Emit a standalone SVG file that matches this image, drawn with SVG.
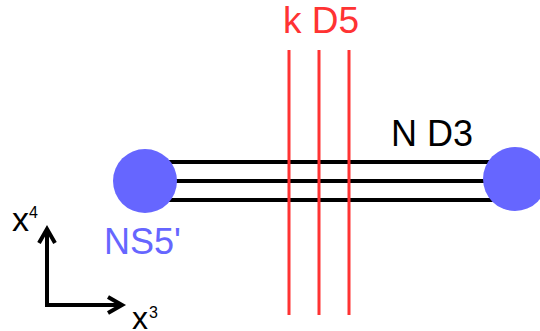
<svg xmlns="http://www.w3.org/2000/svg" width="540" height="331" viewBox="0 0 540 331">
<style>
text{font-family:"Liberation Sans",Arial,sans-serif}
.red{stroke:#ff3333;stroke-width:3;fill:none}
.blk{stroke:#000;stroke-width:4;fill:none}
.ax{stroke:#000;stroke-width:4;fill:none}
</style>
<rect width="540" height="331" fill="#fff"/>
<g id="connectors">
<line class="blk" x1="145" y1="162" x2="515" y2="162"/>
<line class="blk" x1="145" y1="181" x2="515" y2="181"/>
<line class="blk" x1="145" y1="200" x2="515" y2="200"/>
</g>
<g id="D5">
<line class="red" x1="289" y1="50" x2="289" y2="315"/>
<line class="red" x1="319" y1="50" x2="319" y2="315"/>
<line class="red" x1="349" y1="50" x2="349" y2="315"/>
<text x="283" y="33" font-size="37" fill="#ff3333">k D5</text>
</g>
<g id="NS5left">
<circle cx="145" cy="181" r="32" fill="#6666ff"/>
<text x="104" y="254" font-size="36" fill="#6666ff">NS5'</text>
</g>
<g id="NS5right">
<circle cx="515" cy="179" r="32" fill="#6666ff"/>
</g>
<g id="ND3">
<text x="391" y="146" font-size="36" fill="#000">N D3</text>
</g>
<g id="axes">
<polyline class="ax" points="47,229 47,305 121,305"/>
<polyline class="ax" points="39,243 47,229 55,243"/>
<polyline class="ax" points="108,297 122,305 108,313"/>
<text x="12" y="231" font-size="34">x</text>
<text x="29" y="218" font-size="16">4</text>
<text x="132" y="329" font-size="32">x</text>
<text x="149" y="318" font-size="16">3</text>
</g>
</svg>
